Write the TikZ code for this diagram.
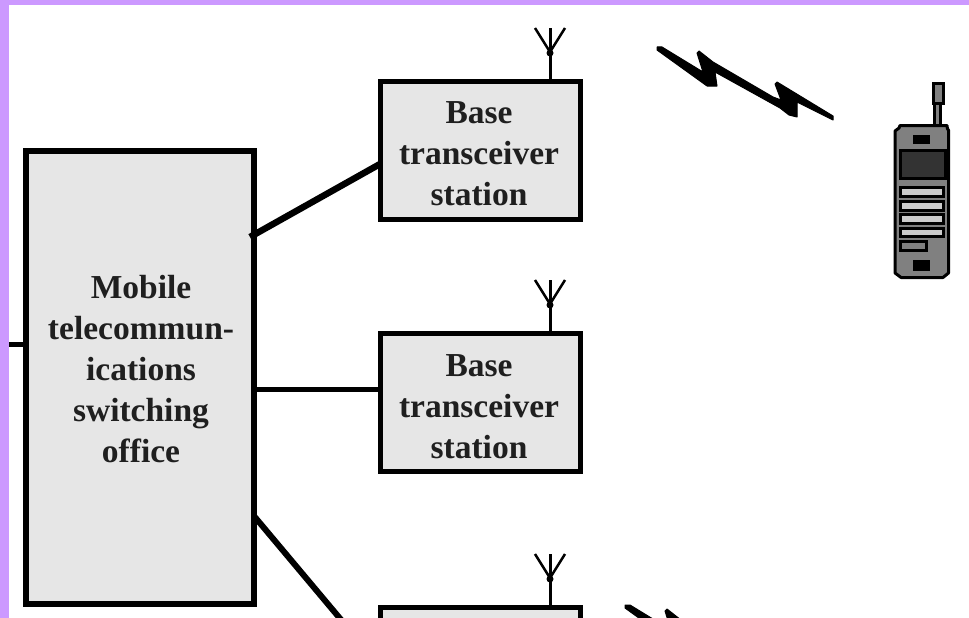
\documentclass[tikz,border=0pt]{standalone}
\usepackage{fontspec}
\setmainfont{Liberation Serif}
\usetikzlibrary{calc}
\definecolor{frame}{HTML}{CC99FF}
\definecolor{boxfill}{HTML}{E6E6E6}
\definecolor{phonebody}{HTML}{808080}
\definecolor{phonescreen}{HTML}{333333}
\definecolor{phonekey}{HTML}{CCCCCC}
\tikzset{
  box/.style={draw=black,fill=boxfill,line width=5pt,rectangle,inner sep=0pt,minimum width=200pt,minimum height=138pt},
  mainbox/.style={box,line width=6pt,minimum width=228pt,minimum height=453pt},
  lbl/.style={align=center,font=\fontsize{33.5}{41}\selectfont\bfseries,text=black!88,inner sep=0pt},
  link/.style={draw=black,line width=5pt},
  mast/.style={draw=black,line width=3pt},
  arm/.style={draw=black,line width=2.5pt},
  bolt/.style={fill=black,draw=black,line width=1pt,line join=round},
  pkey/.style={draw=black,line width=3pt,fill=phonekey},
  pslot/.style={fill=black,draw=none}
}
\begin{document}
\begin{tikzpicture}[x=1pt,y=-1pt]
\useasboundingbox (0,0) rectangle (969,618);
\clip (0,0) rectangle (969,618);
\fill[white] (0,0) rectangle (969,618);
\fill[frame] (0,0) rectangle (969,5);
\fill[frame] (0,0) rectangle (9,618);

\node[mainbox] (main) at (140,377.5) {};
\node[box] (b1) at (480.5,150.5) {};
\node[box] (b2) at (480.5,402.5) {};
\node[box] (b3) at (480.5,676.5) {};

\node[lbl] (t0) at (141,369) {Mobile\\telecommun-\\ications\\switching\\office};
\node[lbl] (t1) at (479,154) {Base\\transceiver\\station};
\node[lbl] (t2) at (479,407) {Base\\transceiver\\station};

% links
\coordinate (stub) at (9,344);
\coordinate (m1) at (250,237);
\coordinate (m2) at (254,389.5);
\coordinate (m3) at (254,516);
\coordinate (e1) at (380,164);
\coordinate (e2) at (380,389.5);
\coordinate (e3) at (348,628);
\draw[link] (stub) -- (stub -| main.west);
\draw[link,line width=6.5pt] (m1) -- (e1);
\draw[link] (m2) -- (e2);
\draw[link,line width=6pt] (m3) -- (e3);

% antennas
\foreach \b/\n in {b1/a1,b2/a2,b3/a3}{
  \coordinate (\n) at ($(\b.north)+(69.5,0)$);
  \draw[mast] (\n) -- ++(0,-51);
  \draw[arm] ($(\n)+(-15,-51)$) -- ($(\n)+(0,-27)$) -- ($(\n)+(15,-51)$);
  \fill ($(\n)+(0,-26)$) circle (3.5pt);
}

% lightning bolts
\foreach \dx/\dy in {0/0,-32/558}{
  \filldraw[bolt,shift={(\dx,\dy)}] (657,47) -- (662,47) -- (703,72) -- (697,53) -- (699,51)
    -- (713,62) -- (773,97) -- (781,100) -- (775,84) -- (777,82) -- (833,116) -- (833,120) -- (797,102)
    -- (797,117) -- (789,115) -- (780,108) -- (715,72) -- (717,86) -- (707,86) -- (657,50) -- cycle;
}

% handset
\draw[black,line width=3pt,fill=phonebody] (933.5,83.5) rectangle (943,103);
\draw[black,line width=3pt,fill=phonebody] (934.5,103) rectangle (940.5,125);
\draw[black,line width=3pt,fill=phonebody,line join=round]
  (900,125.5) -- (947,125.5) -- (947.5,129) -- (948.5,130) -- (948.5,273) -- (943,277.5)
  -- (901,277.5) -- (895,273) -- (895,131) -- (899,128) -- cycle;
\fill[pslot] (913,135) rectangle (930,144);
\draw[black,line width=3pt,fill=phonescreen] (900.5,150.5) rectangle (945,178.5);
\fill[black] (944,150) rectangle (946,180);
\draw[pkey] (900,187.5) rectangle (943,196.5);
\draw[pkey] (900,201) rectangle (943,210);
\draw[pkey] (900,214.5) rectangle (943,223.5);
\draw[pkey] (900,228) rectangle (943,236.5);
\draw[black,line width=3pt,fill=phonebody] (900,241.5) rectangle (926,250);
\fill[pslot] (913,260) rectangle (930,271);
\end{tikzpicture}
\end{document}
